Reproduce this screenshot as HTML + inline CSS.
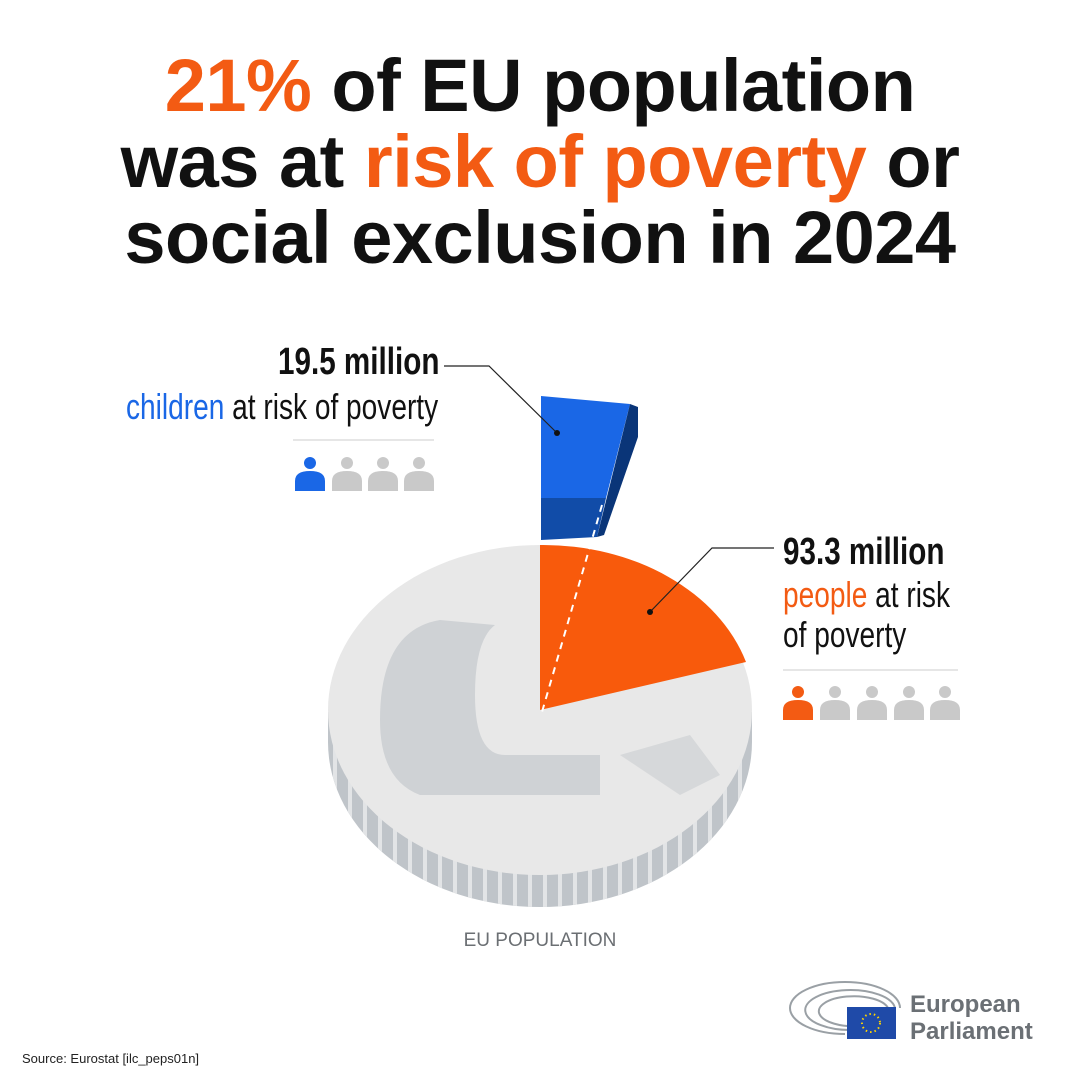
<!DOCTYPE html>
<html><head><meta charset="utf-8"><style>
body{margin:0;width:1080px;height:1080px;background:#fff;position:relative;overflow:hidden;font-family:"Liberation Sans",sans-serif}
.t{position:absolute;left:0;width:1080px;text-align:center;font-weight:bold;font-size:74px;letter-spacing:-0.5px;color:#111;line-height:76px}
.o{color:#f35b13}
.n{position:absolute;white-space:nowrap;transform-origin:0 0;transform:scaleX(0.78);color:#111}
</style></head><body>
<div class="t" style="top:48px"><span class="o">21%</span> of EU population</div>
<div class="t" style="top:124px">was at <span class="o">risk of poverty</span> or</div>
<div class="t" style="top:200px">social exclusion in 2024</div>

<svg width="1080" height="1080" style="position:absolute;left:0;top:0">
 <defs>
  <clipPath id="side"><path d="M328,712 L328,742 A212,165 0 0 0 752,742 L752,712 Z"/></clipPath>
  <g id="p"><circle cx="15" cy="6" r="6"/><path d="M0,34 L0,24 Q0,14 15,14 Q30,14 30,24 L30,34 Z"/></g>
 </defs>
 <!-- coin side -->
 <path d="M328,712 L328,742 A212,165 0 0 0 752,742 L752,712 Z" fill="#bfc4c9"/>
 <g clip-path="url(#side)" stroke="#e2e4e6" stroke-width="4">
  <path d="M335,700v230M350,700v230M365,700v230M380,700v230M395,700v230M410,700v230M425,700v230M440,700v230M455,700v230M470,700v230M485,700v230M500,700v230M515,700v230M530,700v230M545,700v230M560,700v230M575,700v230M590,700v230M605,700v230M620,700v230M635,700v230M650,700v230M665,700v230M680,700v230M695,700v230M710,700v230M725,700v230M740,700v230"/>
 </g>
 <ellipse cx="540" cy="710" rx="212" ry="165" fill="#e8e8e8"/>
 <!-- euro symbol faint -->
 <path d="M440,620 q-60,10 -60,100 q0,60 40,75 l180,0 l0,-40 l-95,0 q-30,0 -30,-60 q0,-55 20,-70 z" fill="#cfd2d5"/>
 <path d="M620,755 l60,40 l40,-20 l-30,-40 z" fill="#d6d8da"/>
 <path d="M540,710 L540,545 A212,165 0 0 1 746,662 Z" fill="#f85a0c"/>
 <!-- blue piece -->
 <path d="M541,396 L630,404 L606,498 L541,498 Z" fill="#1a67e6"/>
 <path d="M541,498 L606,498 L597,537 L541,540 Z" fill="#114ca8"/>
 <path d="M630,404 L638,407 L638,437 L604,535 L597,537 Z" fill="#0a3578"/>
 <line x1="602" y1="505" x2="542" y2="712" stroke="#fff" stroke-width="2" stroke-dasharray="7,6"/>
 <!-- leaders -->
 <polyline points="444,366 489,366 557,433" fill="none" stroke="#222" stroke-width="1.2"/>
 <circle cx="557" cy="433" r="3" fill="#111"/>
 <polyline points="774,548 712,548 650,612" fill="none" stroke="#222" stroke-width="1.2"/>
 <circle cx="650" cy="612" r="3" fill="#111"/>
 <line x1="293" y1="440" x2="434" y2="440" stroke="#ddd" stroke-width="1.5"/>
 <line x1="783" y1="670" x2="958" y2="670" stroke="#ddd" stroke-width="1.5"/>
 <use href="#p" x="295" y="457" fill="#1a67e6"/>
 <use href="#p" x="332" y="457" fill="#c9c9c9"/>
 <use href="#p" x="368" y="457" fill="#c9c9c9"/>
 <use href="#p" x="404" y="457" fill="#c9c9c9"/>
 <use href="#p" x="783" y="686" fill="#f35b13"/>
 <use href="#p" x="820" y="686" fill="#c9c9c9"/>
 <use href="#p" x="857" y="686" fill="#c9c9c9"/>
 <use href="#p" x="894" y="686" fill="#c9c9c9"/>
 <use href="#p" x="930" y="686" fill="#c9c9c9"/>
 <!-- EP logo -->
 <g fill="none" stroke="#9aa0a5" stroke-width="2">
  <path d="M845,1034 A55,26 0 1 1 900,1008"/>
  <path d="M853,1030 A45,20 0 1 1 895,1008"/>
  <path d="M860,1026 A35,15 0 1 1 888,1008"/>
 </g>
 <rect x="847" y="1007" width="49" height="32" fill="#1f4aa8"/>
 <circle cx="871" cy="1023" r="9" fill="none" stroke="#ffd500" stroke-width="2" stroke-dasharray="1.5,3"/>
</svg>

<div class="n" style="left:278px;top:341px;font-weight:bold;font-size:38px;width:200px;text-align:right">19.5 million</div>
<div class="n" style="left:126px;top:386px;font-size:36px;width:396px;text-align:right"><span style="color:#1a67e6">children</span> at risk of poverty</div>
<div class="n" style="left:783px;top:531px;font-weight:bold;font-size:38px">93.3 million</div>
<div class="n" style="left:783px;top:574px;font-size:36px"><span style="color:#f35b13">people</span> at risk</div>
<div class="n" style="left:783px;top:614px;font-size:36px">of poverty</div>

<div style="position:absolute;left:0;width:1080px;top:930px;text-align:center;color:#6b6f73;font-size:19px">EU POPULATION</div>
<div style="position:absolute;left:910px;top:991px;color:#6b7075;font-size:24px;line-height:27px;font-weight:bold;">European<br>Parliament</div>
<div style="position:absolute;left:22px;top:1051px;color:#222;font-size:13px">Source: Eurostat [ilc_peps01n]</div>
</body></html>
